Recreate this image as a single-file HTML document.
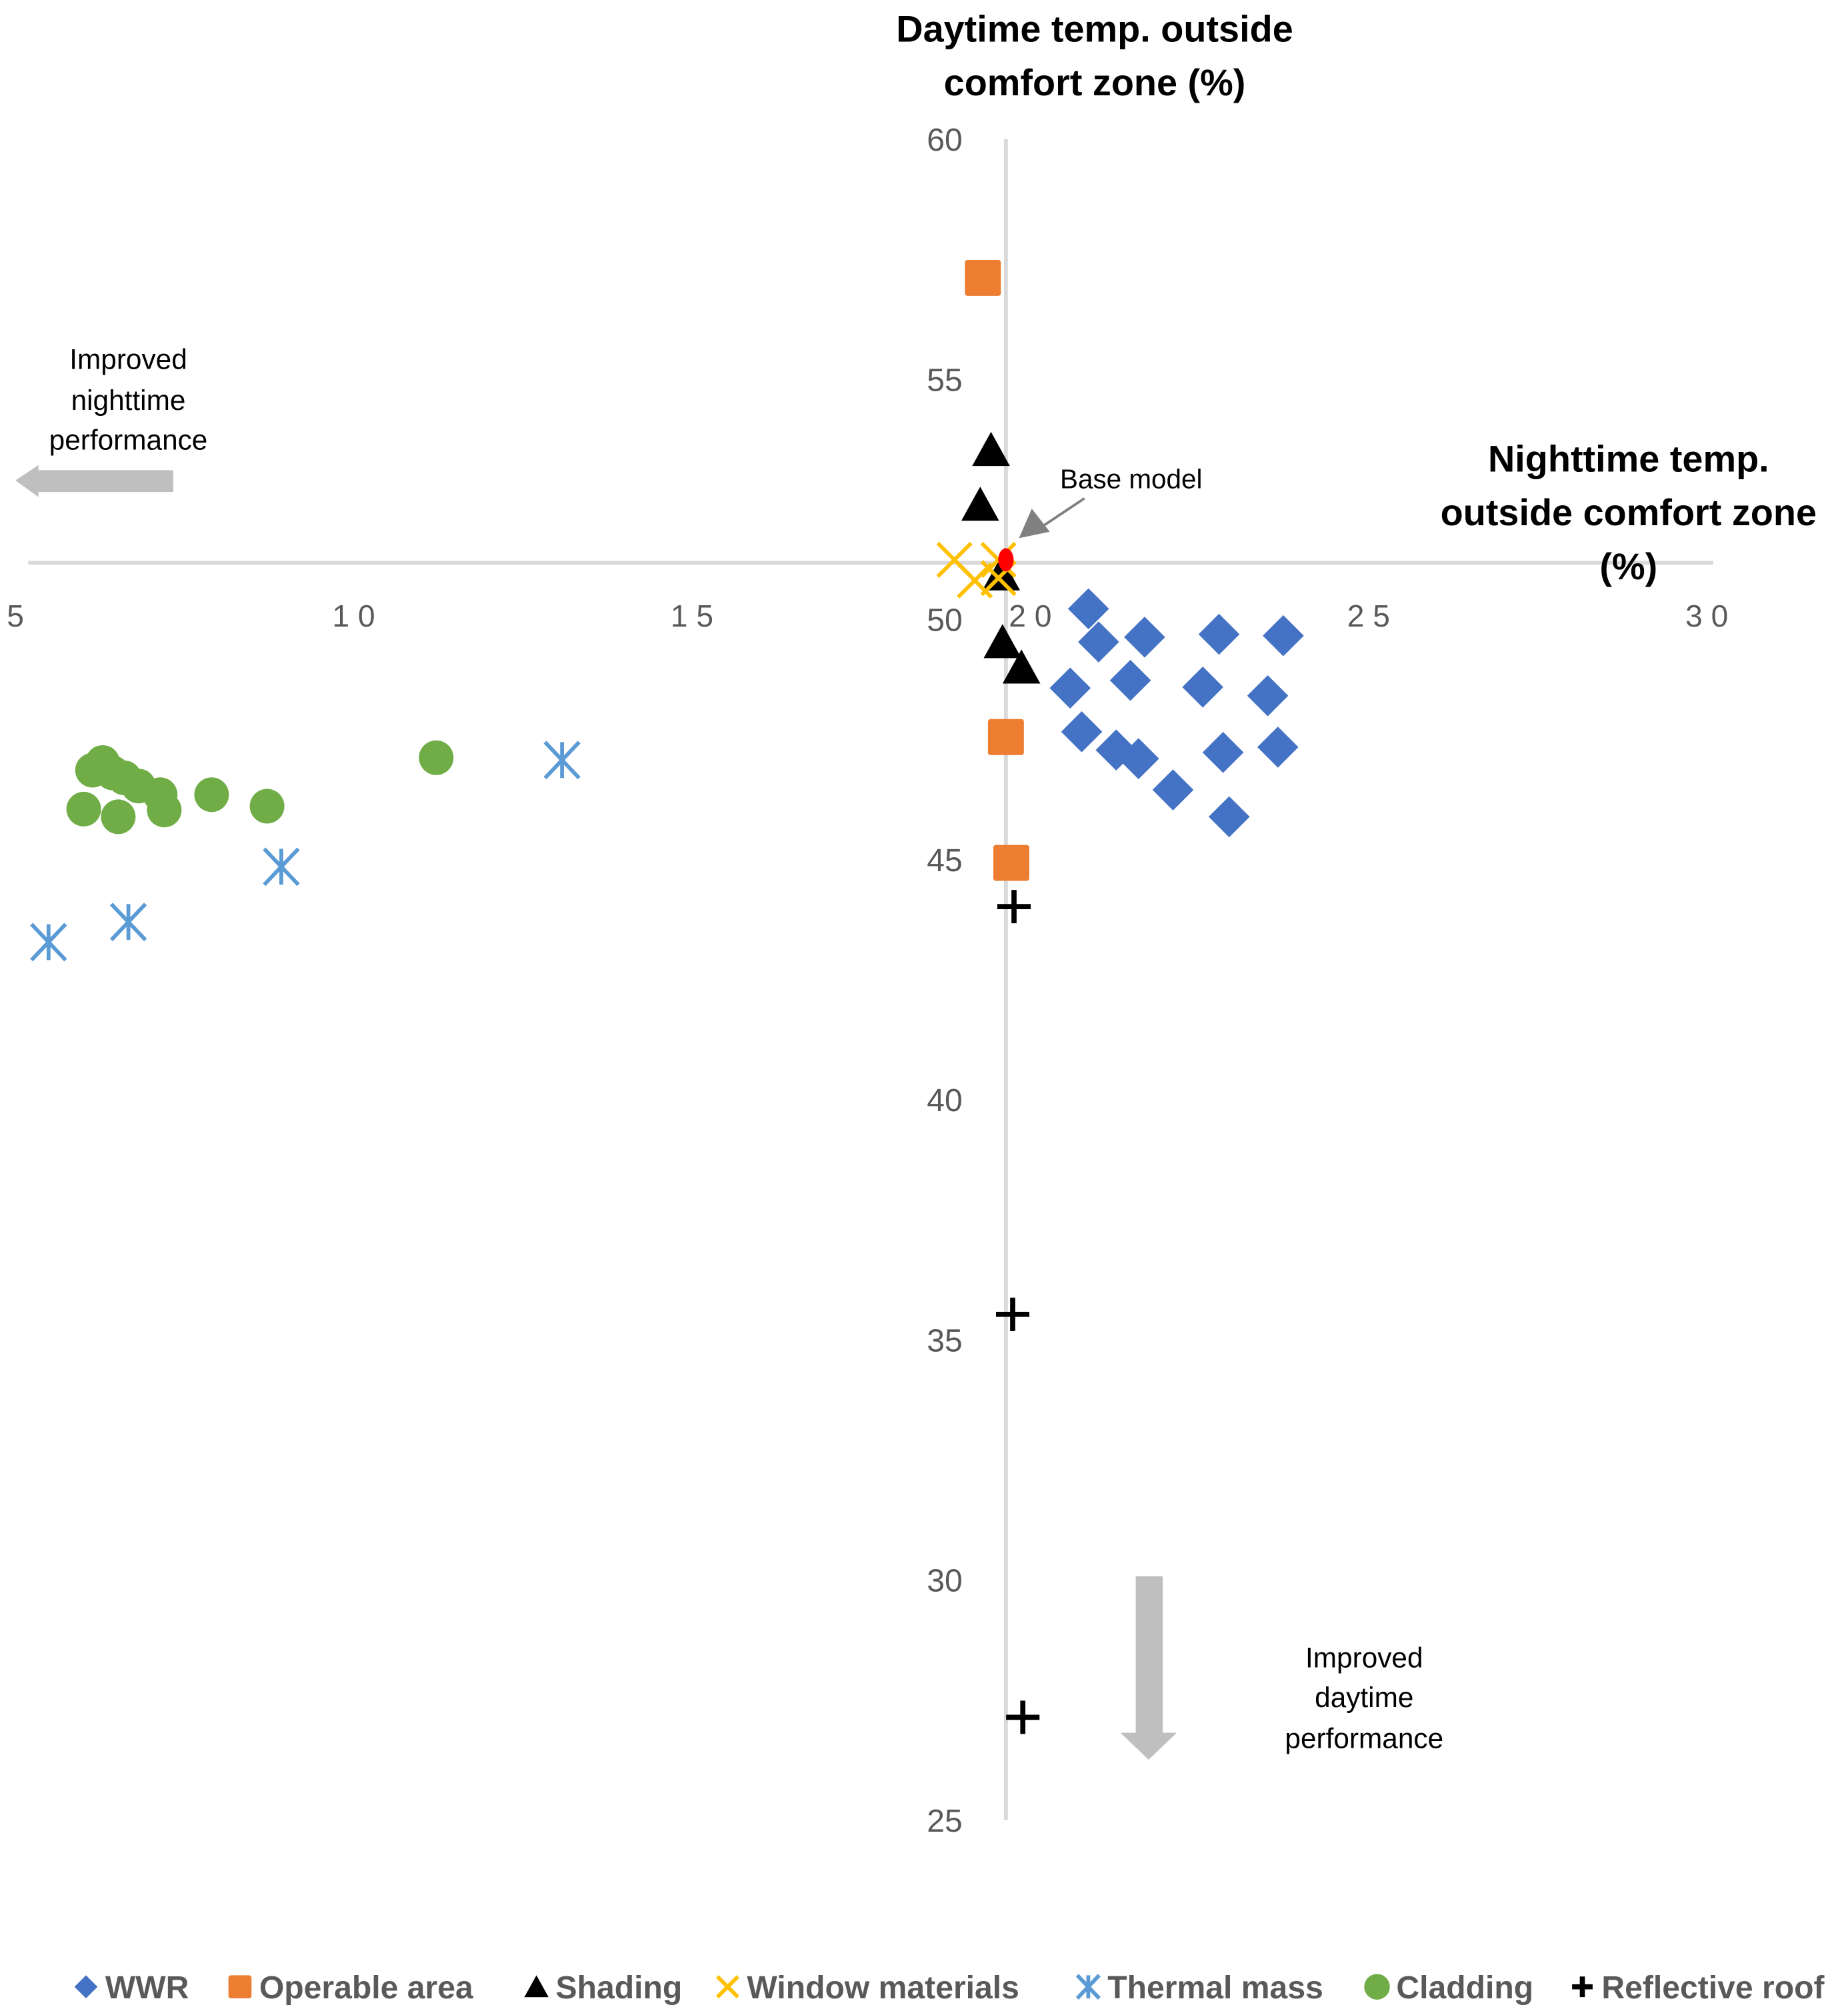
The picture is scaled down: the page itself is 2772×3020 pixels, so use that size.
<!DOCTYPE html>
<html><head><meta charset="utf-8"><style>
html,body{margin:0;padding:0;background:#fff}
svg{display:block}
text{font-family:"Liberation Sans",sans-serif}
</style></head><body>
<svg id="chart" width="2772" height="3020" viewBox="0 0 1440 1568" xmlns="http://www.w3.org/2000/svg">
<g id="axes"></g>
<g id="marks"></g>
<g font-weight="bold" font-size="29" text-anchor="middle" fill="#000">
<text x="853" y="32">Daytime temp. outside</text><text x="853" y="74">comfort zone (%)</text></g>
<g font-weight="bold" font-size="29" text-anchor="middle" fill="#000">
<text x="1269" y="367">Nighttime temp.</text><text x="1269" y="409">outside comfort zone</text><text x="1269" y="451">(%)</text></g>
<g font-size="22" text-anchor="middle" fill="#000">
<text x="100" y="287">Improved</text><text x="100" y="319">nighttime</text><text x="100" y="350">performance</text></g>
<polygon points="12,374 30,362 30,366 135,366 135,383 30,383 30,387" fill="#bfbfbf"/>
<g font-size="22" text-anchor="middle" fill="#000">
<text x="1063" y="1299">Improved</text><text x="1063" y="1330">daytime</text><text x="1063" y="1362">performance</text></g>
<polygon points="885,1228 906,1228 906,1350 917,1350 895,1371 873,1350 885,1350" fill="#bfbfbf"/>
<text x="826" y="380" font-size="21" fill="#000">Base model</text>
<line x1="845" y1="388" x2="812" y2="410" stroke="#808080" stroke-width="2"/>
<polygon points="794,419 804,396 818,414" fill="#808080"/>
<g id="legend" font-size="25" font-weight="bold" fill="#595959"></g>
</svg>
<script>
var categories=["WWR","Operable area","Shading","Window materials","Thermal mass","Cladding","Reflective roof"];
var wwrX=[20.86,21.01,21.69,22.79,23.74,20.59,21.48,22.55,23.51,20.76,21.27,21.60,22.11,22.85,23.66,22.94];
var wwrY=[50.22,49.53,49.63,49.69,49.66,48.57,48.73,48.59,48.41,47.66,47.28,47.10,46.45,47.23,47.34,45.89];
var operableX=[19.30,19.64,19.72];
var operableY=[57.11,47.55,44.93];
var shadingX=[19.42,19.26,19.57,19.59,19.87];
var shadingY=[53.53,52.39,50.94,49.53,49.0];
var windowX=[18.88,19.18,19.53,19.53];
var windowY=[51.24,50.81,51.24,50.86];
var thermalX=[13.08,8.93,6.67,5.49];
var thermalY=[47.07,44.85,43.70,43.28];
var claddingX=[11.22,8.72,7.90,7.20,7.14,6.82,6.61,6.44,6.29,6.14,6.01,6.52];
var claddingY=[47.12,46.11,46.35,46.03,46.35,46.53,46.70,46.80,47.02,46.86,46.05,45.89];
var roofX=[19.76,19.74,19.89];
var roofY=[44.02,35.53,27.14];
var baseX=[19.64];
var baseY=[51.24];
var xTicks=[5,10,15,20,25,30];
var xTickLabels=["5","1 0","1 5","2 0","2 5","3 0"];
var yTicks=[60,55,50,45,40,35,30,25];
var xCross=19.64, yCross=51.18;

var NS="http://www.w3.org/2000/svg";
function sx(v){return 12+(v-5)*52.72;}
function sy(v){return 108+(60-v)*37.43;}
function mk(tag,attrs,parent){var e=document.createElementNS(NS,tag);for(var k in attrs)e.setAttribute(k,attrs[k]);parent.appendChild(e);return e;}
var axes=document.getElementById('axes'),marks=document.getElementById('marks'),legend=document.getElementById('legend');
var l1=mk('line',{x1:sx(xCross),x2:sx(xCross),y1:sy(60),y2:sy(25),stroke:'#d9d9d9','stroke-width':3},axes);


var l2=mk('line',{x1:22,x2:1335,y1:sy(yCross),y2:sy(yCross),stroke:'#d9d9d9','stroke-width':3},axes);


xTicks.forEach(function(t,i){
  var e=mk('text',{x:sx(t),y:488,'text-anchor':'middle','font-size':24,fill:'#595959'},axes);
  e.textContent=xTickLabels[i];
  
  
});
yTicks.forEach(function(t){
  var e=mk('text',{x:750,y:sy(t)+9,'text-anchor':'end','font-size':25,fill:'#595959'},axes);
  e.textContent=String(t);
  
  
});
function diamond(cx,cy,s,p){return mk('polygon',{points:(cx)+','+(cy-s)+' '+(cx+s)+','+cy+' '+cx+','+(cy+s)+' '+(cx-s)+','+cy,fill:'#4472c4'},p);}
function square(cx,cy,s,p){return mk('rect',{x:cx-s,y:cy-s,width:2*s,height:2*s,rx:2,fill:'#ed7d31'},p);}
function tri(cx,cy,s,p){return mk('polygon',{points:cx+','+(cy-s)+' '+(cx+s*1.05)+','+(cy+s*0.9)+' '+(cx-s*1.05)+','+(cy+s*0.9),fill:'#000'},p);}
function xmark(cx,cy,s,p){return mk('path',{d:'M'+(cx-s)+' '+(cy-s)+'L'+(cx+s)+' '+(cy+s)+'M'+(cx+s)+' '+(cy-s)+'L'+(cx-s)+' '+(cy+s),stroke:'#ffc000','stroke-width':3,fill:'none'},p);}
function star(cx,cy,s,p){return mk('path',{d:'M'+cx+' '+(cy-s)+'V'+(cy+s)+'M'+(cx-s*0.95)+' '+(cy-s)+'L'+(cx+s*0.95)+' '+(cy+s)+'M'+(cx+s*0.95)+' '+(cy-s)+'L'+(cx-s*0.95)+' '+(cy+s),stroke:'#5b9bd5','stroke-width':3,fill:'none'},p);}
function circ(cx,cy,s,p){return mk('circle',{cx:cx,cy:cy,r:s,fill:'#70ad47'},p);}
function plus(cx,cy,s,p){return mk('path',{d:'M'+(cx-s)+' '+cy+'H'+(cx+s)+'M'+cx+' '+(cy-s)+'V'+(cy+s),stroke:'#000','stroke-width':4,fill:'none'},p);}
var i,e;
for(i=0;i<claddingX.length;i++){e=circ(sx(claddingX[i]),sy(claddingY[i]),13.5,marks);

}
for(i=0;i<thermalX.length;i++){e=star(sx(thermalX[i]),sy(thermalY[i]),14,marks);

}
for(i=0;i<wwrX.length;i++){e=diamond(sx(wwrX[i]),sy(wwrY[i]),16,marks);

}
for(i=0;i<operableX.length;i++){e=square(sx(operableX[i]),sy(operableY[i]),14,marks);

}
for(i=0;i<shadingX.length;i++){e=tri(sx(shadingX[i]),sy(shadingY[i]),14,marks);

}
for(i=0;i<windowX.length;i++){e=xmark(sx(windowX[i]),sy(windowY[i]),13,marks);

}
for(i=0;i<roofX.length;i++){e=plus(sx(roofX[i]),sy(roofY[i]),13,marks);

}
e=mk('ellipse',{cx:sx(baseX[0]),cy:sy(baseY[0]),rx:6,ry:9,fill:'#ff0000'},marks);


var legX=[67,187,418,567,848,1073,1233];
var fns=[function(x,y,p){return diamond(x,y,9,p);},function(x,y,p){return square(x,y,9,p);},function(x,y,p){return tri(x,y,9,p);},function(x,y,p){return xmark(x,y,8,p);},function(x,y,p){return star(x,y,9,p);},function(x,y,p){return circ(x,y,10,p);},function(x,y,p){return plus(x,y,8,p);}];
categories.forEach(function(c,k){
  var g=mk('g',{},legend);
  
  
  fns[k](legX[k],1548,g);
  var t=mk('text',{x:legX[k]+15,y:1557},g);
  t.textContent=c;
});
</script>
</body></html>
